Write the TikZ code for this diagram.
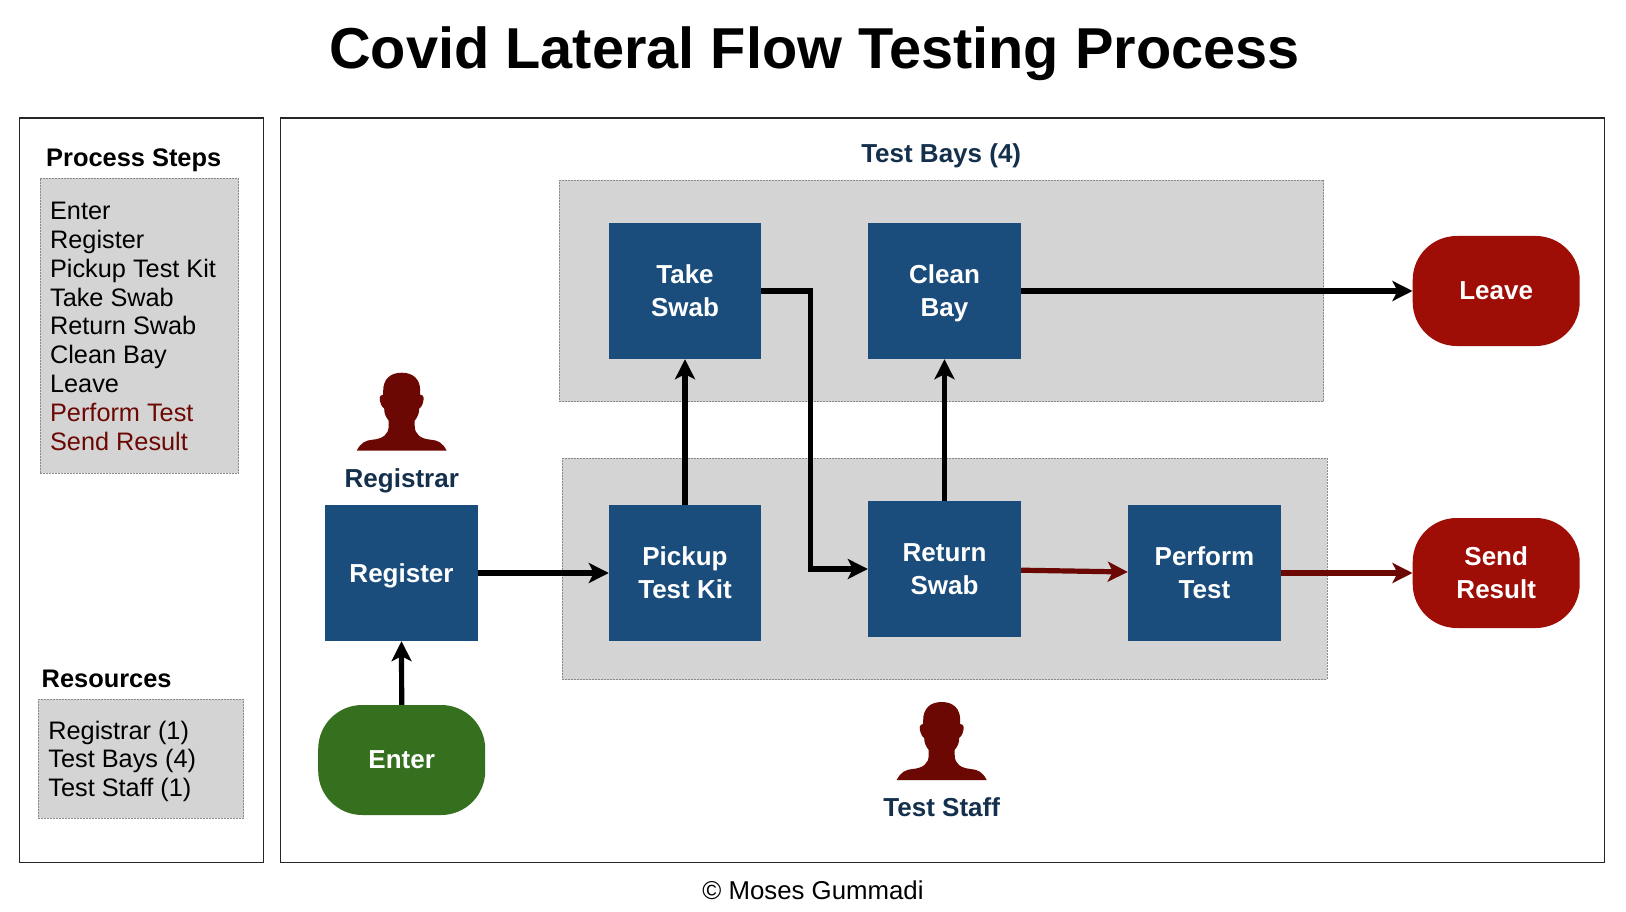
\documentclass[tikz,border=0pt]{standalone}
\usepackage{fontspec}
\setmainfont{Liberation Sans}
\usetikzlibrary{arrows.meta}
\definecolor{boxblue}{HTML}{1B4D7C}
\definecolor{navytext}{HTML}{14304D}
\definecolor{graybg}{HTML}{D4D4D4}
\definecolor{grayedge}{HTML}{8A8A8A}
\definecolor{paneledge}{HTML}{262626}
\definecolor{darkred}{HTML}{6C0803}
\definecolor{termred}{HTML}{9E0D06}
\definecolor{termgreen}{HTML}{34701E}
\tikzset{
  panel/.style={draw=paneledge,line width=1.3pt,fill=white,rectangle,inner sep=0pt},
  graybox/.style={draw=grayedge,line width=0.9pt,dash pattern=on 2pt off 1pt,fill=graybg,rectangle,inner sep=0pt},
  taskbox/.style={fill=boxblue,text=white,rectangle,inner sep=0pt,align=center,text depth=0pt,
    font=\fontsize{26}{33}\selectfont\bfseries},
  terminal/.style={text=white,rectangle,inner sep=0pt,align=center,text depth=0pt,
    minimum width=167pt,minimum height=110pt,rounded corners=44pt,
    font=\fontsize{26}{33}\selectfont\bfseries},
  flow/.style={line width=5.2pt,-{Stealth[length=20pt,width=20pt,inset=5pt]}},
  redflow/.style={flow,draw=darkred},
  listtext/.style={inner sep=0pt,anchor=base west,align=left,font=\fontsize{25.3}{28.8}\selectfont},
  heading/.style={inner sep=0pt,anchor=base west,font=\fontsize{25.4}{30}\selectfont\bfseries},
  navylabel/.style={inner sep=0pt,anchor=base,text=navytext,font=\fontsize{26}{30}\selectfont\bfseries},
  person/.pic={
    \fill[darkred] (-45,78) .. controls (-41,70) and (-36,67.5) .. (-29,67)
      .. controls (-19,66) and (-13,62) .. (-13,53) -- (-13,48)
      .. controls (-16,44) and (-17.5,41) .. (-17.5,36)
      .. controls (-20.5,34) and (-22,29) .. (-22,25)
      .. controls (-22,23) and (-20,22) .. (-18.5,22) -- (-18.5,18)
      .. controls (-18.5,7) and (-12,0) .. (0,0)
      .. controls (12,0) and (18.5,7) .. (18.5,18) -- (18.5,22)
      .. controls (20,22) and (22,23) .. (22,25)
      .. controls (22,29) and (20.5,34) .. (17.5,36)
      .. controls (17.5,41) and (16,44) .. (13,48) -- (13,53)
      .. controls (13,62) and (19,66) .. (29,67)
      .. controls (36,67.5) and (41,70) .. (45,78) -- cycle;
  }
}
\begin{document}
\begin{tikzpicture}[x=1pt,y=-1pt]
\useasboundingbox (0,0) rectangle (1626,912);
% title and panels
\node[inner sep=0pt,anchor=base,font=\fontsize{57.7}{60}\selectfont\bfseries] (title) at (814.5,69) {Covid Lateral Flow Testing Process};
\node[panel,minimum width=244.4pt,minimum height=744.3pt] (leftpanel) at (141.5,490.2) {};
\node[panel,minimum width=1324pt,minimum height=744.3pt] (mainpanel) at (942.3,490.2) {};
% left column
\node[heading] (stepshead) at (46,166.4) {Process Steps};
\node[graybox,minimum width=198.4pt,minimum height=295pt] (stepsbox) at (139.5,325.8) {};
\node[listtext] (stepslist) at (49.9,450) {Enter\\Register\\Pickup Test Kit\\Take Swab\\Return Swab\\Clean Bay\\Leave\\\textcolor{darkred}{Perform Test}\\\textcolor{darkred}{Send Result}};
\node[heading] (reshead) at (41.5,687.4) {Resources};
\node[graybox,minimum width=205.4pt,minimum height=119pt] (resbox) at (141,758.8) {};
\node[listtext] (reslist) at (48.2,796.7) {Registrar (1)\\Test Bays (4)\\Test Staff (1)};
% gray zones
\node[graybox,minimum width=764.4pt,minimum height=221.4pt] (upperzone) at (941.5,291) {};
\node[graybox,minimum width=764.7pt,minimum height=221.4pt] (lowerzone) at (944.7,569) {};
% tasks
\node[taskbox,minimum width=153pt,minimum height=136pt] (register) at (401.5,573) {Register};
\node[taskbox,minimum width=152pt,minimum height=136pt] (pickup) at (685,573) {Pickup\\Test Kit};
\node[taskbox,minimum width=152pt,minimum height=136pt] (take) at (685,291) {Take\\Swab};
\node[taskbox,minimum width=153pt,minimum height=136pt] (clean) at (944.5,291) {Clean\\Bay};
\node[taskbox,minimum width=153pt,minimum height=136pt] (return) at (944.5,569) {Return\\Swab};
\node[taskbox,minimum width=153pt,minimum height=136pt] (perform) at (1204.5,573) {Perform\\Test};
% terminals
\node[terminal,fill=termgreen] (enter) at (401.7,760) {Enter};
\node[terminal,fill=termred] (leave) at (1496.2,291) {Leave};
\node[terminal,fill=termred] (send) at (1496.2,573) {Send\\Result};
% people and labels
\pic at (401.7,372.7) {person};
\node[navylabel] (registrar) at (401.8,487.7) {Registrar};
\pic at (941.7,702) {person};
\node[navylabel] (teststaff) at (941.7,816) {Test Staff};
\node[navylabel] (testbays) at (941.2,162.3) {Test Bays (4)};
\node[inner sep=0pt,anchor=base,font=\fontsize{25.8}{30}\selectfont] (copyright) at (813,899.3) {© Moses Gummadi};
% connectors
\coordinate (bend) at (810.7,430);
\draw[flow] (enter.north) -- (register.south);
\draw[flow] (register.east) -- (pickup.west);
\draw[flow] (pickup.north) -- (take.south);
\draw[flow] (take.east) -| (bend) |- (return.west);
\draw[flow] (return.north) -- (clean.south);
\draw[flow] (clean.east) -- (leave.west);
\draw[redflow] ([yshift=-1.2pt]return.east) -- ([yshift=1pt]perform.west);
\draw[redflow] (perform.east) -- (send.west);
\end{tikzpicture}
\end{document}
